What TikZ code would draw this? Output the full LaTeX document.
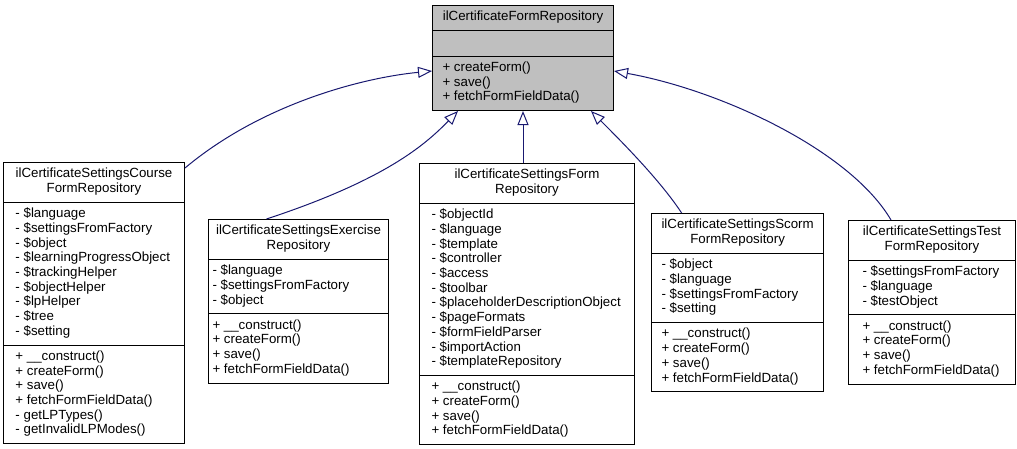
\documentclass[tikz,border=0pt]{standalone}
\usepackage{fontspec}
\setmainfont{Liberation Sans}
\usetikzlibrary{shapes.multipart}
\usetikzlibrary{arrows.meta, positioning}

\newcommand{\ctitle}[1]{\begin{tabular}{@{}c@{}}#1\end{tabular}}
\newcommand{\cmembers}[1]{\begin{tabular}{@{}l@{}}#1\end{tabular}}

\definecolor{edgeblue}{RGB}{25,25,112}
\definecolor{basegray}{RGB}{191,191,191}

\tikzset{
  classbox/.style={rectangle split, rectangle split parts=3, draw=black, line width=1pt,
    fill=white, anchor=north west, inner xsep=7pt, inner ysep=4.7pt,
    font=\fontsize{13.3}{14.7}\selectfont, rectangle split part align={center,left,left}},
  basebox/.style={classbox, fill=basegray},
  inherit/.style={draw=edgeblue, line width=1pt, -{Triangle[open,length=14pt,width=11pt]}}
}

\begin{document}
\begin{tikzpicture}[x=1pt,y=-1pt]
\useasboundingbox (0,0) rectangle (1017,448);

\node[basebox, minimum width=181pt, inner xsep=10pt] (base) at (432,5) {\ctitle{ilCertificateFormRepository}
  \nodepart{second}\rule{0pt}{15pt}
  \nodepart{third}\cmembers{+ createForm()\\+ save()\\+ fetchFormFieldData()}};

\node[classbox, minimum width=181pt, inner xsep=12pt] (course) at (3,162) {\ctitle{ilCertificateSettingsCourse\\FormRepository}
  \nodepart{second}\cmembers{- \$language\\- \$settingsFromFactory\\- \$object\\- \$learningProgressObject\\- \$trackingHelper\\- \$objectHelper\\- \$lpHelper\\- \$tree\\- \$setting}
  \nodepart{third}\cmembers{+ \_\_construct()\\+ createForm()\\+ save()\\+ fetchFormFieldData()\\- getLPTypes()\\- getInvalidLPModes()}};

\node[classbox, minimum width=180pt, inner xsep=4pt] (exercise) at (208,219) {\ctitle{ilCertificateSettingsExercise\\Repository}
  \nodepart{second}\cmembers{- \$language\\- \$settingsFromFactory\\- \$object}
  \nodepart{third}\cmembers{+ \_\_construct()\\+ createForm()\\+ save()\\+ fetchFormFieldData()}};

\node[classbox, minimum width=215pt, inner xsep=12pt] (form) at (419,163) {\ctitle{ilCertificateSettingsForm\\Repository}
  \nodepart{second}\cmembers{- \$objectId\\- \$language\\- \$template\\- \$controller\\- \$access\\- \$toolbar\\- \$placeholderDescriptionObject\\- \$pageFormats\\- \$formFieldParser\\- \$importAction\\- \$templateRepository}
  \nodepart{third}\cmembers{+ \_\_construct()\\+ createForm()\\+ save()\\+ fetchFormFieldData()}};

\node[classbox, minimum width=168pt, inner xsep=10pt] (scorm) at (651,213) {\ctitle{ilCertificateSettingsScorm\\FormRepository}
  \nodepart{second}\cmembers{- \$object\\- \$language\\- \$settingsFromFactory\\- \$setting}
  \nodepart{third}\cmembers{+ \_\_construct()\\+ createForm()\\+ save()\\+ fetchFormFieldData()}};

\node[classbox, minimum width=167pt, inner xsep=14pt] (test) at (848,220) {\ctitle{ilCertificateSettingsTest\\FormRepository}
  \nodepart{second}\cmembers{- \$settingsFromFactory\\- \$language\\- \$testObject}
  \nodepart{third}\cmembers{+ \_\_construct()\\+ createForm()\\+ save()\\+ fetchFormFieldData()}};

\draw[inherit] ([yshift=-6pt]course.north east) .. controls (260,105) and (360,78) .. ([yshift=-13pt]base.west);
\draw[inherit] ([xshift=-32pt]exercise.north) .. controls (385,180) and (425,145) .. ([xshift=-65pt]base.south);
\draw[inherit] (form.north -| base.south) -- (base.south);
\draw[inherit] ([xshift=-56pt]scorm.north) .. controls (660,180) and (620,140) .. ([xshift=68pt]base.south);
\draw[inherit] ([xshift=-41pt]test.north) .. controls (850,150) and (720,90) .. ([yshift=-13pt]base.east);

\end{tikzpicture}
\end{document}
